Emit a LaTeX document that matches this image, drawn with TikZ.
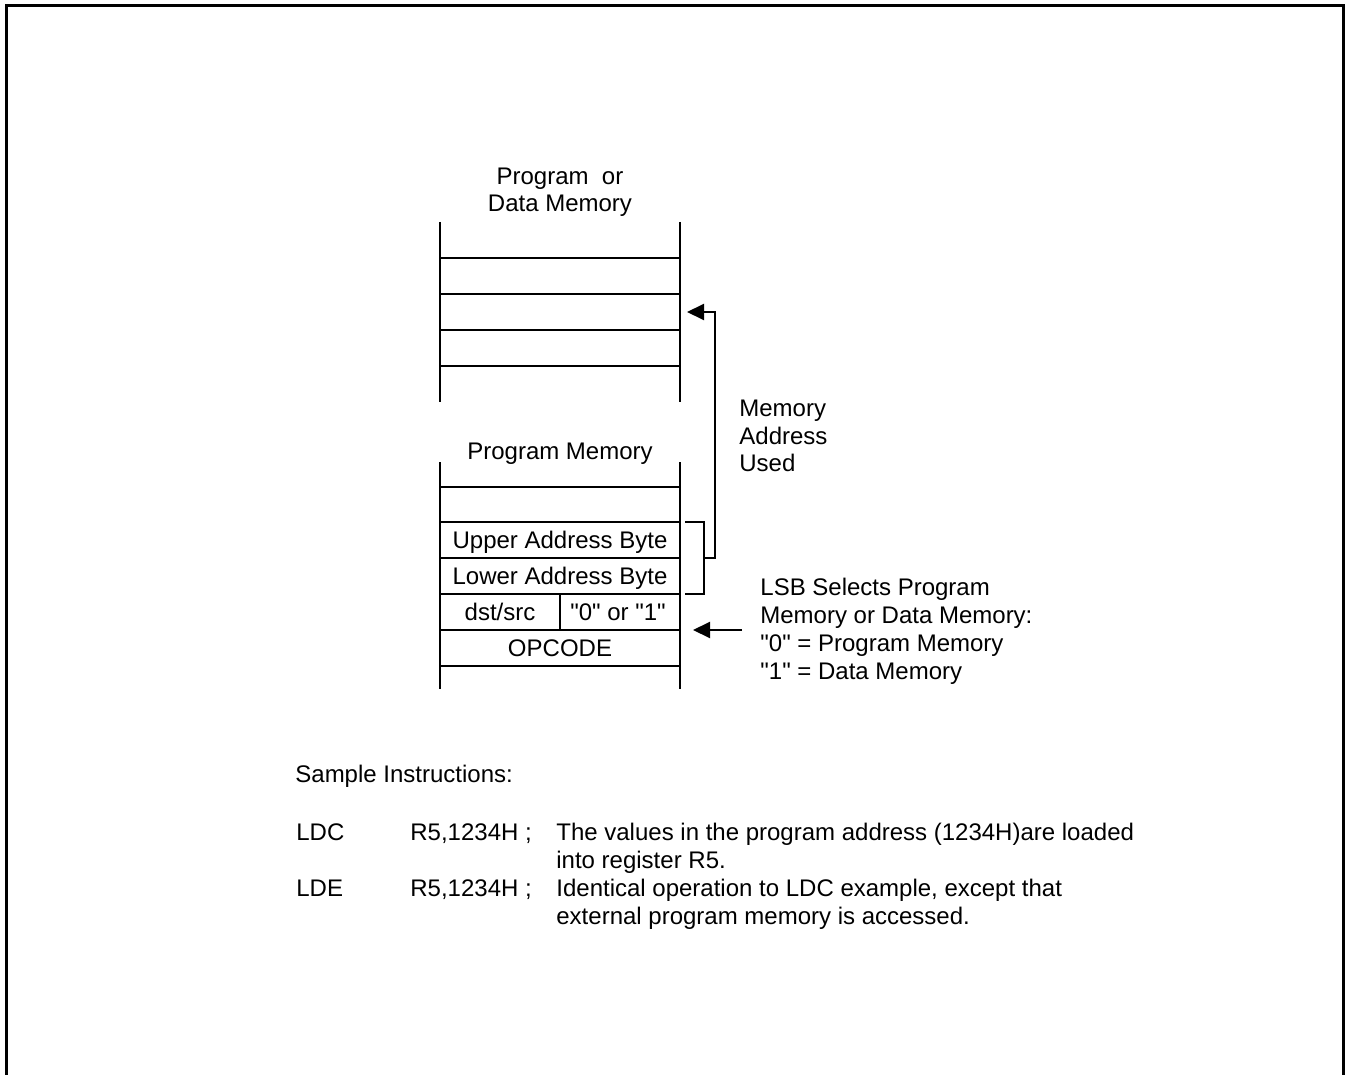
\documentclass[tikz,border=0pt]{standalone}
\usepackage{fontspec}
\setmainfont{Liberation Sans}
\usetikzlibrary{arrows.meta,positioning}
\newcommand{\qbit}[1]{\textquotedbl#1\textquotedbl}

\begin{document}
\begin{tikzpicture}[
  x=0.5pt, y=-0.5pt,
  font=\fontsize{12}{13.8}\selectfont,
  frame/.style={line width=1.5pt},
  mem/.style={line width=1pt},
  T/.style={inner sep=0pt, anchor=base},
  L/.style={inner sep=0pt, anchor=base west, align=left},
  arr/.style={-{Triangle[length=8.5pt, width=8pt]}, line width=1pt}
]
  \useasboundingbox (0,0) rectangle (1345,1075);
  \draw[frame] (6.5,1075) -- (6.5,5.5) -- (1343.5,5.5) -- (1343.5,1075);

  % upper memory (program or data)
  \node[T, align=center] (pdm) at (560,212) {Program~ or\\Data Memory};
  \draw[mem] (440,222) -- (440,402);
  \draw[mem] (680,222) -- (680,402);
  \foreach \y in {258,294,330,366}
    \draw[mem] (440,\y) -- (680,\y);
  \coordinate (used) at (687,312);

  % program memory
  \node[T] (pm) at (560,459) {Program Memory};
  \draw[mem] (440,462) -- (440,689);
  \draw[mem] (680,462) -- (680,689);
  \foreach \y in {487,522,558,594,630,666}
    \draw[mem] (440,\y) -- (680,\y);
  \draw[mem] (560,594) -- (560,630);
  \node[T] (uab) at (560,548) {Upper Address Byte};
  \node[T] (lab) at (560,584) {Lower Address Byte};
  \node[T] (ds) at (500,620) {dst/src};
  \node[T] (lsb) at (618,620) {\qbit{0} or \qbit{1}};
  \node[T] (op) at (560,656) {OPCODE};

  % address bracket
  \draw[mem] (685,522) -- (704,522) -- (704,594) -- (685,594);
  \coordinate (brk) at (704,558);
  \draw[arr] (brk) -- ++(11,0) |- (used);
  \node[L] (mau) at (739,472) {Memory\\Address\\Used};

  % LSB note
  \node[L, font=\fontsize{12}{14}\selectfont] (note) at (760,679)
    {LSB Selects Program\\Memory or Data Memory:\\\qbit{0} = Program Memory\\\qbit{1} = Data Memory};
  \coordinate (nt) at (742,630);
  \coordinate (bit) at (693,630);
  \draw[arr] (nt) -- (bit);

  % sample instructions
  \node[L] (si) at (295,782) {Sample Instructions:};
  \node[L] (ldc) at (296,840) {LDC};
  \node[L] (ldcop) at (410,840) {R5,1234H ;};
  \node[L] (ldctx) at (556,868) {The values in the program address (1234H)are loaded\\into register R5.};
  \node[L] (lde) at (296,896) {LDE};
  \node[L] (ldeop) at (410,896) {R5,1234H ;};
  \node[L] (ldetx) at (556,924) {Identical operation to LDC example, except that\\external program memory is accessed.};
\end{tikzpicture}
\end{document}
